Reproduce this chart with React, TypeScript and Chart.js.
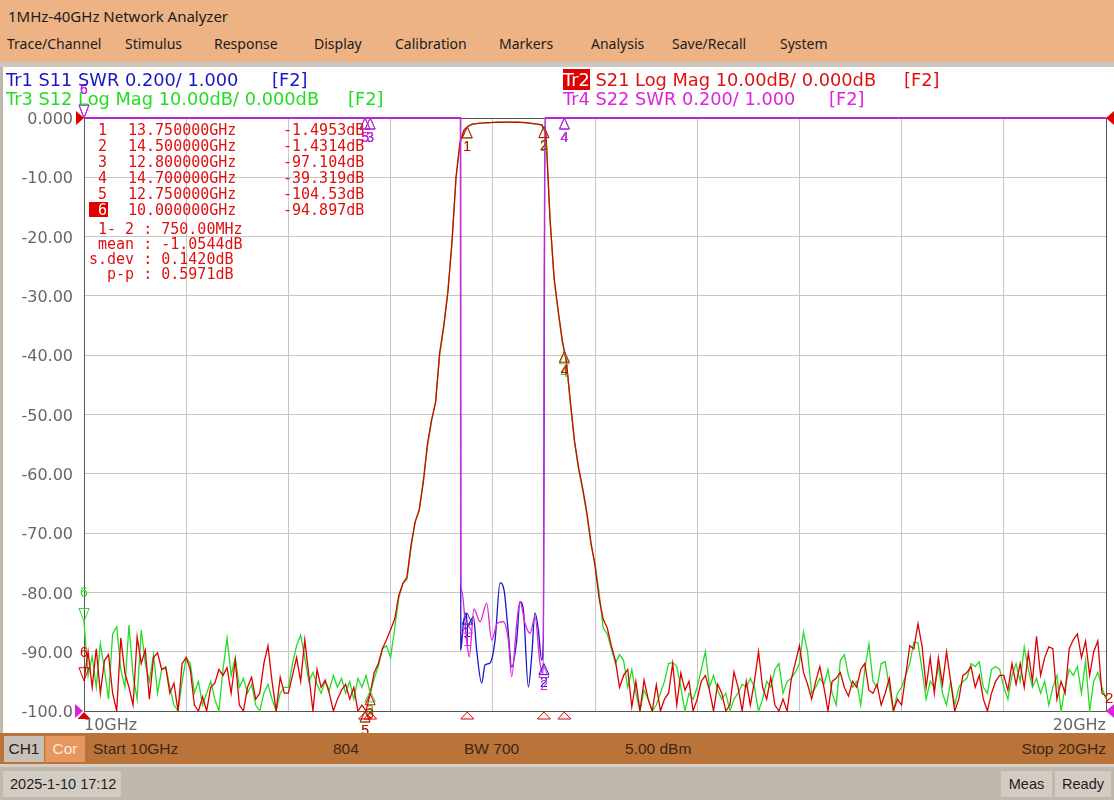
import React, { useEffect, useRef } from "react";
import { Chart, registerables } from "chart.js";

Chart.register(...registerables);

// ---- sweep (instrument: Start 10GHz, Stop 20GHz) ----
const START_GHZ = 10;
const STOP_GHZ = 20;
const SWEEP_STEP_GHZ = 0.04;

// Tr2 S21 Log Mag (dB), one row per GHz, 0.04 GHz apart
const s21Db: number[] = [
  -94.9, -90, -96, -89.5, -97, -91.5, -90.5, -97, -100, -87.7, -93.6, -96, -99, -87.5, -92, -89.7, -98, -91, -90.2, -93, -92.7, -97, -95.3, -100, -92,
  -91, -93, -99, -100, -97.6, -100, -96, -95.3, -93, -94, -92.7, -97, -91.4, -99, -100, -96, -94.3, -98, -97, -92, -89, -95, -100, -94.3, -97,
  -97, -94, -91, -95, -88, -94, -100, -93, -96, -94.8, -97, -100, -98, -96.5, -95.5, -98, -96, -100, -99, -100, -97.1, -93.5, -92, -89.5, -88,
  -86.3, -84.5, -80.5, -78.5, -77.4, -72, -68.2, -66, -61.5, -55, -51, -48, -39.6, -35, -29.5, -21, -10, -4, -2.0, -1.35, -1.05, -0.95, -0.88, -0.82, -0.78,
  -0.75, -0.72, -0.72, -0.7, -0.7, -0.72, -0.7, -0.73, -0.78, -0.85, -0.95, -1.05, -1.15, -2.6, -17, -27, -32.5, -37.5, -41, -48, -54.5, -59, -62.5, -66.5, -71.5,
  -75.5, -81, -84.5, -86, -89, -91.5, -96, -94, -93, -99.3, -95, -100, -94.8, -98, -100, -95.6, -100, -98, -97, -92, -99, -93.6, -96.5, -95, -100,
  -98, -95, -94, -96.5, -100, -95.5, -97, -100, -99, -93.4, -96, -100, -95, -99, -95, -90, -96, -98, -94.3, -99, -100, -98, -100, -94.7, -91.9,
  -89, -93.5, -95.5, -98, -95, -92.5, -96, -100, -95, -94.5, -93.5, -96, -97.5, -95, -96, -93, -92, -96.5, -97, -95.5, -99, -97, -94.5, -100, -98,
  -99, -94, -89, -89.5, -85.3, -89, -96, -91, -97, -91, -95.5, -90, -95, -100, -98, -94, -93.5, -92.5, -96, -94, -98, -100, -97, -95, -94,
  -94, -96.5, -92, -95.5, -92, -96, -90.2, -95, -87.4, -94, -91, -89.2, -89.5, -98, -95, -97, -89.5, -88, -87, -91, -88.2, -94, -90, -88.2, -97,
  -97.5,
];

// Tr3 S12 Log Mag (dB), same sweep points
const s12Db: number[] = [
  -85, -94, -90.8, -96, -88.6, -93, -98, -87, -85.8, -93, -96, -85.5, -94, -98, -86.3, -92, -95, -90.5, -97, -93, -92.5, -96, -99, -100, -95,
  -91, -92, -97, -95, -99, -97, -95, -98, -100, -93, -87.7, -94, -91, -96, -94.5, -97, -95.5, -99, -100, -97, -95.5, -98, -100, -97, -96,
  -96, -92, -89, -87.2, -91, -95, -93.5, -95.5, -97, -95, -96.5, -94, -96, -94.5, -97, -95, -98, -94.5, -96, -94, -97, -94.5, -92.5, -89.5, -89,
  -91, -86, -81, -78.5, -77.8, -72.5, -68, -66.3, -61, -55.5, -51.2, -47.8, -40, -35.3, -29.2, -21.2, -10.2, -4.1, -2.0, -1.4, -1.05, -0.95, -0.88, -0.83, -0.8,
  -0.77, -0.74, -0.73, -0.72, -0.71, -0.73, -0.72, -0.75, -0.8, -0.87, -0.97, -1.08, -1.2, -2.7, -17.2, -27.2, -32.8, -37.8, -41.2, -48.3, -54.8, -59.3, -62.8, -66.8, -72,
  -75, -80, -86, -87, -89.5, -92, -90.5, -91.5, -96, -93, -97, -100, -96.5, -98, -100, -99, -97, -95, -92, -91.8, -92.5, -96, -100, -97, -98,
  -96, -93, -90, -96, -94, -96.5, -98, -97, -100, -98, -97, -95.5, -96, -94.5, -96, -100, -98, -95, -96, -93, -92, -97, -95, -94.5, -93.5,
  -92, -86.7, -90, -97, -96, -94.5, -95.5, -93, -97, -99, -91.5, -90.5, -94, -96, -95, -99, -93, -88.7, -95, -96, -92, -91.7, -96, -100, -97,
  -96, -94, -92, -88.4, -88.5, -93, -98, -95, -96, -92.5, -97, -99, -95, -99, -96, -95, -94.5, -92, -92.5, -91.7, -96, -97, -93, -92.5, -93,
  -96, -98, -94, -92, -95, -89.2, -93, -96, -94.5, -97, -95, -99, -96, -94, -100, -96, -93, -94, -92.5, -97, -91.5, -100, -95, -93.5, -96,
  -98,
];

// Tr1 S11 SWR (0.200/div, 1.000 at bottom); 3.0 = clipped at top
const s11FreqGHz = [10.0, 13.685, 13.687, 13.712, 13.738, 13.754, 13.777, 13.81, 13.842, 13.891, 13.924, 13.973, 14.022, 14.071, 14.11, 14.152, 14.185, 14.234, 14.266, 14.299, 14.348, 14.38, 14.413, 14.446, 14.478, 14.494, 14.512, 20.0];
const s11Swr = [3, 3, 1.206, 1.297, 1.331, 1.283, 1.3, 1.317, 1.206, 1.094, 1.155, 1.162, 1.239, 1.432, 1.408, 1.263, 1.148, 1.239, 1.368, 1.341, 1.081, 1.182, 1.331, 1.273, 1.172, 1.239, 3, 3];

// Tr4 S22 SWR
const s22FreqGHz = [10.0, 13.683, 13.685, 13.695, 13.744, 13.77, 13.816, 13.875, 13.94, 13.989, 14.044, 14.103, 14.152, 14.185, 14.234, 14.266, 14.315, 14.364, 14.413, 14.462, 14.494, 14.508, 20.0];
const s22Swr = [3, 3, 1.453, 1.408, 1.239, 1.183, 1.344, 1.301, 1.363, 1.239, 1.296, 1.301, 1.239, 1.116, 1.296, 1.369, 1.296, 1.262, 1.318, 1.161, 1.127, 3, 3];

// axis ticks
const yTickDb = [0, -10, -20, -30, -40, -50, -60, -70, -80, -90, -100];
const yTickLabels = ["0.000", "-10.00", "-20.00", "-30.00", "-40.00", "-50.00", "-60.00", "-70.00", "-80.00", "-90.00", "-100.0"];
const xLabelGHz = [10, 20];
const xLabelText = ["10GHz", "20GHz"];

// markers
const markerIds = [1, 2, 3, 4, 5, 6];
const markerFreqGHz = [13.75, 14.5, 12.8, 14.7, 12.75, 10.0];
const s21MarkerDb = [-1.4953, -1.4314, -97.104, -39.319, -104.53, -94.897];
const s12MarkerDb = [-1.53, -1.47, -96.6, -39.6, -101.8, -84.9];
const s11MarkerSwr = [1.33, 1.16, 3.5, 3.5, 3.5, 3.5];
const s22MarkerSwr = [1.3, 1.15, 3.5, 3.5, 3.5, 3.5];
const ACTIVE_MARKER = 6;

const statLines = [" 1- 2 : 750.00MHz", " mean : -1.0544dB", "s.dev : 0.1420dB", "  p-p : 0.5971dB"];

const C_S11 = "#1717c8";
const C_S21 = "#dc0000";
const C_S12 = "#25dc25";
const C_S22 = "#dd22dd";

const vnaOverlay = {
  id: "vnaOverlay",
  afterDatasetsDraw(chart: any) {
    const { ctx, chartArea: a, scales } = chart;
    const sx = scales.x;
    const sy = scales.y;
    const sw = scales.ySwr;
    const clampY = (v: number) => Math.min(a.bottom, Math.max(a.top, v));
    ctx.save();
    ctx.lineWidth = 1;
    ctx.font = "14px 'Liberation Sans', Arial, sans-serif";
    ctx.textAlign = "center";
    ctx.textBaseline = "middle";
    const drawMarker = (f: number, py: number, id: number, color: string) => {
      const px = sx.getPixelForValue(f);
      const y = clampY(py);
      ctx.strokeStyle = color;
      ctx.fillStyle = color;
      ctx.beginPath();
      if (id === ACTIVE_MARKER) {
        ctx.moveTo(px, y);
        ctx.lineTo(px - 5, y - 13);
        ctx.lineTo(px + 5, y - 13);
        ctx.closePath();
        ctx.stroke();
        ctx.fillText(String(id), px, y - 28);
      } else {
        ctx.moveTo(px, y);
        ctx.lineTo(px - 5, y + 11);
        ctx.lineTo(px + 5, y + 11);
        ctx.closePath();
        ctx.stroke();
        ctx.fillText(String(id), px, y + 20);
      }
    };
    markerIds.forEach((id, i) => drawMarker(markerFreqGHz[i], sw.getPixelForValue(s11MarkerSwr[i]), id, C_S11));
    markerIds.forEach((id, i) => drawMarker(markerFreqGHz[i], sy.getPixelForValue(s12MarkerDb[i]), id, C_S12));
    markerIds.forEach((id, i) => drawMarker(markerFreqGHz[i], sy.getPixelForValue(s21MarkerDb[i]), id, C_S21));
    markerIds.forEach((id, i) => drawMarker(markerFreqGHz[i], sw.getPixelForValue(s22MarkerSwr[i]), id, C_S22));

    // stimulus indicators of the active trace (Tr2) under the x axis
    markerIds.forEach((id, i) => {
      const px = sx.getPixelForValue(markerFreqGHz[i]);
      ctx.beginPath();
      ctx.moveTo(px, a.bottom + 1);
      ctx.lineTo(px - 6.5, a.bottom + 8);
      ctx.lineTo(px + 6.5, a.bottom + 8);
      ctx.closePath();
      ctx.strokeStyle = C_S21;
      ctx.fillStyle = C_S21;
      if (id === ACTIVE_MARKER) ctx.fill();
      else ctx.stroke();
    });

    // reference position arrows
    const arrow = (x: number, y: number, dir: number, color: string) => {
      ctx.beginPath();
      ctx.moveTo(x, y);
      ctx.lineTo(x - 8 * dir, y - 7);
      ctx.lineTo(x - 8 * dir, y + 7);
      ctx.closePath();
      ctx.fillStyle = color;
      ctx.fill();
    };
    arrow(a.left, a.top, 1, C_S21);
    arrow(a.right, a.top, -1, C_S21);
    arrow(a.left - 1, a.bottom, 1, C_S22);
    arrow(a.right, a.bottom, -1, C_S22);

    // trace number at the end of Tr2
    ctx.fillStyle = C_S21;
    ctx.textAlign = "left";
    ctx.font = "15px 'Liberation Sans', Arial, sans-serif";
    ctx.fillText("2", a.right - 1, sy.getPixelForValue(s21Db[s21Db.length - 1]) + 3);
    ctx.restore();
  },
};

const edgeColor = "#555555";
const gridColor = "#c6c6c6";

const hdrFont = "'Noto Sans', 'Open Sans', sans-serif";
const trFont = "'DejaVu Sans', Verdana, sans-serif";
const monoFont = "'DejaVu Sans Mono', monospace";
const barFont = "'Liberation Sans', Arial, sans-serif";

function Txt(props: { x?: number; right?: number; y: number; h?: number; style?: any; children: any }) {
  const h = props.h ?? 20;
  const st: any = {
    position: "absolute",
    top: props.y - h / 2,
    height: h,
    lineHeight: h + "px",
    whiteSpace: "pre",
    ...props.style,
  };
  if (props.right !== undefined) st.right = props.right;
  else st.left = props.x;
  return <div style={st}>{props.children}</div>;
}

export default function App() {
  const canvasRef = useRef<HTMLCanvasElement | null>(null);

  useEffect(() => {
    const canvas = canvasRef.current;
    if (!canvas) return;
    const sweepGHz = s21Db.map((_, i) => +(START_GHZ + i * SWEEP_STEP_GHZ).toFixed(3));
    const pts = (xs: number[], ys: number[]) => xs.map((x, i) => ({ x, y: ys[i] }));
    const common = { borderWidth: 1.3, pointRadius: 0, fill: false, tension: 0, clip: 1 };
    const chart = new Chart(canvas, {
      type: "line",
      data: {
        datasets: [
          { ...common, label: "Tr4 S22", data: pts(s22FreqGHz, s22Swr), yAxisID: "ySwr", borderColor: C_S22, cubicInterpolationMode: "monotone" },
          { ...common, label: "Tr2 S21", data: pts(sweepGHz, s21Db), yAxisID: "y", borderColor: C_S21 },
          { ...common, label: "Tr3 S12", data: pts(sweepGHz, s12Db), yAxisID: "y", borderColor: C_S12 },
          { ...common, label: "Tr1 S11", data: pts(s11FreqGHz, s11Swr), yAxisID: "ySwr", borderColor: C_S11, cubicInterpolationMode: "monotone" },
        ],
      } as any,
      options: {
        responsive: false,
        animation: false,
        events: [],
        layout: { padding: { top: 51, right: 8, left: 0, bottom: 0 }, autoPadding: false },
        plugins: { legend: { display: false }, tooltip: { enabled: false } },
        scales: {
          x: {
            type: "linear",
            min: START_GHZ,
            max: STOP_GHZ,
            afterFit: (s: any) => { s.height = 22; },
            grid: {
              drawTicks: false,
              color: (c: any) => (c.tick && (c.tick.value === START_GHZ || c.tick.value === STOP_GHZ) ? edgeColor : gridColor),
              lineWidth: 1,
            },
            border: { display: true, color: edgeColor, width: 1 },
            ticks: {
              stepSize: 1,
              autoSkip: false,
              maxRotation: 0,
              align: "inner",
              padding: 5,
              color: "#666666",
              font: { family: trFont, size: 16 },
              callback: (v: any) => {
                const i = xLabelGHz.indexOf(Math.round(Number(v) * 1000) / 1000);
                return i >= 0 ? xLabelText[i] : "";
              },
            },
          },
          y: {
            type: "linear",
            min: -100,
            max: 0,
            afterFit: (s: any) => { s.width = 84; },
            grid: {
              drawTicks: false,
              color: (c: any) => (c.tick && (c.tick.value === 0 || c.tick.value === -100) ? edgeColor : gridColor),
              lineWidth: 1,
            },
            border: { display: true, color: edgeColor, width: 1 },
            ticks: {
              stepSize: 10,
              padding: 11,
              labelOffset: 2,
              color: "#666666",
              font: { family: trFont, size: 16 },
              callback: (v: any) => {
                const i = yTickDb.indexOf(Math.round(Number(v)));
                return i >= 0 ? yTickLabels[i] : "";
              },
            },
          },
          ySwr: { type: "linear", display: false, min: 1, max: 3 },
        },
      } as any,
      plugins: [vnaOverlay as any],
    });
    return () => chart.destroy();
  }, []);

  const menu: [string, number][] = [
    ["Trace/Channel", 7], ["Stimulus", 125], ["Response", 214], ["Display", 314], ["Calibration", 395],
    ["Markers", 499], ["Analysis", 591], ["Save/Recall", 672], ["System", 780],
  ];
  const red = "#e01010";
  const trSize = 17.8;

  return (
    <div style={{ position: "absolute", left: 0, top: 0, width: 1114, height: 800, overflow: "hidden", background: "#c0b8ac" }}>
      {/* header */}
      <div style={{ position: "absolute", left: 0, top: 0, width: 1114, height: 62, background: "#edb384" }} />
      <div style={{ position: "absolute", left: 0, top: 62, width: 1114, height: 5, background: "#cdc6bf" }} />
      <Txt x={8} y={16} style={{ fontFamily: hdrFont, fontSize: 15, color: "#1c1c1c" }}>1MHz-40GHz Network Analyzer</Txt>
      {menu.map(([t, x]) => (
        <Txt key={t} x={x} y={44} style={{ fontFamily: hdrFont, fontSize: 14, color: "#1c1c1c" }}>{t}</Txt>
      ))}

      {/* white plot panel */}
      <div style={{ position: "absolute", left: 3, top: 67, width: 1111, height: 666, background: "#ffffff" }} />
      <canvas ref={canvasRef} width={1114} height={666} style={{ position: "absolute", left: 0, top: 67, width: 1114, height: 666 }} />

      {/* trace headers */}
      <Txt x={6} y={80} style={{ fontFamily: trFont, fontSize: trSize, color: C_S11 }}>Tr1 S11 SWR 0.200/ 1.000</Txt>
      <Txt x={272} y={80} style={{ fontFamily: trFont, fontSize: trSize, color: C_S11 }}>[F2]</Txt>
      <Txt x={6} y={99} style={{ fontFamily: trFont, fontSize: trSize, color: C_S12 }}>Tr3 S12 Log Mag 10.00dB/ 0.000dB</Txt>
      <Txt x={348} y={99} style={{ fontFamily: trFont, fontSize: trSize, color: C_S12 }}>[F2]</Txt>
      <Txt x={563} y={80} style={{ fontFamily: trFont, fontSize: trSize, color: red }}>
        <span style={{ background: "#e00000", color: "#ffffff" }}>Tr2</span> S21 Log Mag 10.00dB/ 0.000dB
      </Txt>
      <Txt x={904} y={80} style={{ fontFamily: trFont, fontSize: trSize, color: red }}>[F2]</Txt>
      <Txt x={563} y={99} style={{ fontFamily: trFont, fontSize: trSize, color: C_S22 }}>Tr4 S22 SWR 0.200/ 1.000</Txt>
      <Txt x={829} y={99} style={{ fontFamily: trFont, fontSize: trSize, color: C_S22 }}>[F2]</Txt>

      {/* marker table */}
      {markerIds.map((id, i) => {
        const cy = 129.5 + 16 * i;
        const active = id === ACTIVE_MARKER;
        return (
          <React.Fragment key={id}>
            {active && <div style={{ position: "absolute", left: 89, top: cy - 7.5, width: 19, height: 15, background: "#e00000" }} />}
            <Txt x={94} y={cy} h={16} style={{ fontFamily: monoFont, fontSize: 15, color: active ? "#ffffff" : red, width: 9, textAlign: "center", marginLeft: 4 }}>{String(id)}</Txt>
            <Txt x={128} y={cy} h={16} style={{ fontFamily: monoFont, fontSize: 15, color: red }}>{markerFreqGHz[i].toFixed(6) + "GHz"}</Txt>
            <Txt x={283} y={cy} h={16} style={{ fontFamily: monoFont, fontSize: 15, color: red }}>{s21MarkerDb[i].toPrecision(5) + "dB"}</Txt>
          </React.Fragment>
        );
      })}
      {statLines.map((t, i) => (
        <Txt key={t} x={89} y={228.5 + 15 * i} h={16} style={{ fontFamily: monoFont, fontSize: 15, color: red }}>{t}</Txt>
      ))}

      {/* channel bar */}
      <div style={{ position: "absolute", left: 0, top: 733, width: 1114, height: 31, background: "#ba743a" }} />
      <div style={{ position: "absolute", left: 0, top: 764, width: 1114, height: 3, background: "#d6cfc7" }} />
      <div style={{ position: "absolute", left: 4, top: 736, width: 40, height: 26, background: "#c9c1b7" }} />
      <div style={{ position: "absolute", left: 45, top: 736, width: 40, height: 26, background: "#e6975f" }} />
      <Txt x={4} y={749} style={{ fontFamily: barFont, fontSize: 15.5, color: "#1e1e1e", width: 40, textAlign: "center" }}>CH1</Txt>
      <Txt x={45} y={749} style={{ fontFamily: barFont, fontSize: 15.5, color: "#fbeadb", width: 40, textAlign: "center" }}>Cor</Txt>
      <Txt x={93} y={749} style={{ fontFamily: barFont, fontSize: 15.5, color: "#3a2818" }}>Start 10GHz</Txt>
      <Txt x={333} y={749} style={{ fontFamily: barFont, fontSize: 15.5, color: "#3a2818" }}>804</Txt>
      <Txt x={464} y={749} style={{ fontFamily: barFont, fontSize: 15.5, color: "#3a2818" }}>BW 700</Txt>
      <Txt x={625} y={749} style={{ fontFamily: barFont, fontSize: 15.5, color: "#3a2818" }}>5.00 dBm</Txt>
      <Txt right={8} y={749} style={{ fontFamily: barFont, fontSize: 15.5, color: "#3a2818" }}>Stop 20GHz</Txt>

      {/* status bar */}
      <div style={{ position: "absolute", left: 3, top: 771, width: 118, height: 26, background: "#d3ccc3" }} />
      <div style={{ position: "absolute", left: 1001, top: 771, width: 51, height: 26, background: "#d3ccc3" }} />
      <div style={{ position: "absolute", left: 1055, top: 771, width: 56, height: 26, background: "#d3ccc3" }} />
      <Txt x={10} y={784} style={{ fontFamily: barFont, fontSize: 14.5, color: "#1e1e1e" }}>2025-1-10 17:12</Txt>
      <Txt x={1001} y={784} style={{ fontFamily: barFont, fontSize: 14.5, color: "#1e1e1e", width: 51, textAlign: "center" }}>Meas</Txt>
      <Txt x={1055} y={784} style={{ fontFamily: barFont, fontSize: 14.5, color: "#1e1e1e", width: 56, textAlign: "center" }}>Ready</Txt>
    </div>
  );
}
